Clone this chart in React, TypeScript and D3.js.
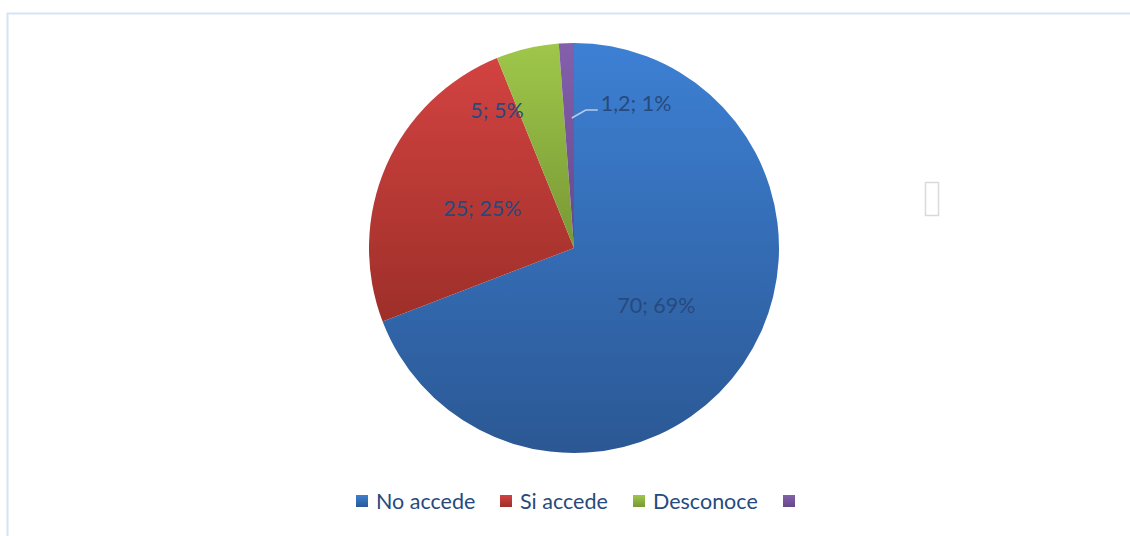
import React from "react";
import * as d3 from "d3";

const categories = ["No accede", "Si accede", "Desconoce", ""];
const values = [70, 25, 5, 1.2];
const valueLabels = ["70", "25", "5", "1,2"];
const percentLabels = ["69%", "25%", "5%", "1%"];
const colorsTop = ["#3d80d4", "#d24341", "#9fc74a", "#8460ac"];
const colorsBottom = ["#2b5894", "#9e2f29", "#789835", "#664889"];

const W = 1130;
const H = 536;
const cx = 574;
const cy = 248;
const R = 205;
const labelColor = "#264a7e";
const font = "Lato, 'Open Sans', sans-serif";
const fs = 21.5;

export default function App() {
  const pie = d3.pie<number>().sort(null).value((d) => d);
  const arcs = pie(values);
  const arcGen = d3.arc<d3.PieArcDatum<number>>().innerRadius(0).outerRadius(R);

  // purple leader
  const pa = arcs[3];
  const pmid = (pa.startAngle + pa.endAngle) / 2 + 0.02;
  const p0: [number, number] = [Math.sin(pmid) * 130, -Math.cos(pmid) * 130];
  const p1: [number, number] = [p0[0] + 14, p0[1] - 8];
  const p2: [number, number] = [p1[0] + 12, p1[1]];

  const legendX = [356, 500, 633, 783];

  return (
    <svg width={W} height={H} style={{ position: "absolute", left: 0, top: 0 }}>
      <defs>
        {categories.map((c, i) => (
          <linearGradient key={"l" + i} id={`lg${i}`} x1="0" y1="0" x2="0" y2="1">
            <stop offset="0" stopColor={colorsTop[i]} />
            <stop offset="1" stopColor={colorsBottom[i]} />
          </linearGradient>
        ))}
      </defs>
      <rect x={0} y={0} width={W} height={H} fill="#ffffff" />
      <path d={`M7.5,${H} L7.5,13.5 L${W},13.5`} fill="none" stroke="#d6e3f3" strokeWidth={2} />
      <g transform={`translate(${cx},${cy})`}>
        {arcs.map((a, i) => (
          <path key={i} d={arcGen(a) || ""} fill={`url(#lg${i})`} />
        ))}
      </g>
      <g transform={`translate(${cx},${cy})`}>
        {arcs.map((a, i) => {
          if (i === 3) return null;
          const mid = (a.startAngle + a.endAngle) / 2;
          let x: number, y: number;
          if (i === 2) {
            const ang = mid - (16 * Math.PI) / 180;
            x = Math.sin(ang) * 158;
            y = -Math.cos(ang) * 158;
          } else {
            x = Math.sin(mid) * 100;
            y = -Math.cos(mid) * 100;
          }
          return (
            <text
              key={i}
              x={x}
              y={y}
              textAnchor="middle"
              dominantBaseline="central"
              fontFamily={font}
              fontSize={fs}
              fill={labelColor}
            >
              {`${valueLabels[i]}; ${percentLabels[i]}`}
            </text>
          );
        })}
        <polyline
          points={[p0, p1, p2].map((p) => p.join(",")).join(" ")}
          fill="none"
          stroke="#b9cde8"
          strokeWidth={1.5}
        />
        <text
          x={p2[0] + 3}
          y={p2[1] - 7}
          dominantBaseline="central"
          fontFamily={font}
          fontSize={fs}
          fill={labelColor}
        >
          {`${valueLabels[3]}; ${percentLabels[3]}`}
        </text>
      </g>
      <rect x={925.5} y={182.5} width={13} height={33} fill="none" stroke="#d9d9d9" strokeWidth={1.5} />
      <g>
        {categories.map((c, i) => (
          <g key={i} transform={`translate(${legendX[i]},495)`}>
            <rect x={0} y={0} width={12} height={12} fill={`url(#lg${i})`} />
            <text x={20} y={6} dominantBaseline="central" fontFamily={font} fontSize={fs} fill={labelColor}>
              {c}
            </text>
          </g>
        ))}
      </g>
    </svg>
  );
}
